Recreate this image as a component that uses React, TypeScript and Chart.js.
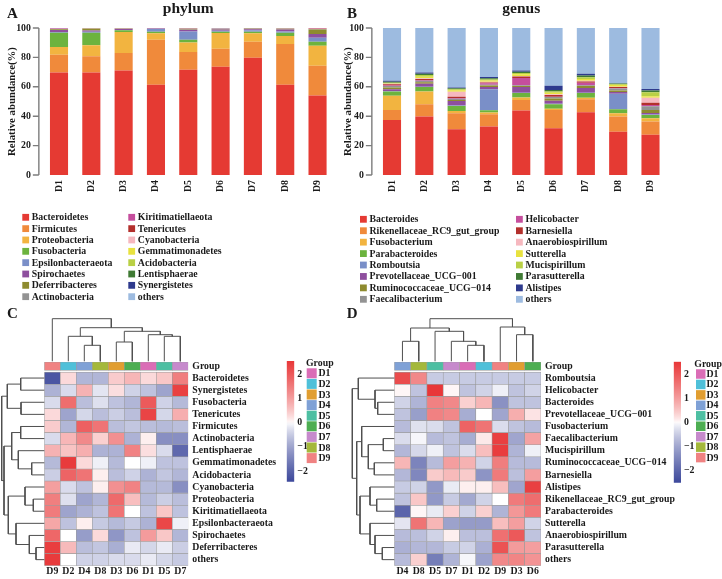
import React, { useEffect, useRef } from 'react';
import { Chart, registerables } from 'chart.js';

Chart.register(...registerables);

const SERIF = "'Liberation Serif', 'Times New Roman', serif";
const INK = '#1a1a1a';
Chart.defaults.font.family = SERIF;
Chart.defaults.color = INK;

// ---------------- data ----------------
const samples = ['D1', 'D2', 'D3', 'D4', 'D5', 'D6', 'D7', 'D8', 'D9'];
const abundanceTicks = [0, 20, 40, 60, 80, 100];
const zTicks = [-2, -1, 0, 1, 2];

const phylumNames = [
  'Bacteroidetes', 'Firmicutes', 'Proteobacteria', 'Fusobacteria', 'Epsilonbacteraeota', 'Spirochaetes',
  'Deferribacteres', 'Actinobacteria', 'Kiritimatiellaeota', 'Tenericutes', 'Cyanobacteria',
  'Gemmatimonadetes', 'Acidobacteria', 'Lentisphaerae', 'Synergistetes', 'others',
];
const phylumValues = [
  [69.8, 69.8, 71.1, 61.4, 71.6, 73.6, 79.8, 61.4, 54.1],
  [12.0, 10.9, 11.9, 30.6, 12.0, 12.3, 10.9, 27.7, 20.2],
  [5.2, 7.5, 14.3, 4.4, 6.6, 10.7, 5.7, 5.4, 13.7],
  [9.8, 8.6, 1.1, 1.1, 1.8, 0.9, 1.1, 2.3, 2.7],
  [0.4, 0.6, 0.3, 1.8, 5.7, 0.7, 0.9, 0.9, 2.6],
  [1.4, 0.9, 0.6, 0.3, 1.1, 0.8, 0.8, 1.2, 2.7],
  [0.5, 1.2, 0.2, 0.1, 0.4, 0.4, 0.3, 0.6, 3.0],
  [0.3, 0.2, 0.2, 0.1, 0.3, 0.2, 0.1, 0.2, 0.4],
  [0.2, 0.1, 0.15, 0.05, 0.2, 0.2, 0.1, 0.1, 0.3],
  [0.1, 0.05, 0.05, 0.05, 0.1, 0.1, 0.1, 0.1, 0.1],
  [0.05, 0.05, 0.02, 0.02, 0.05, 0.05, 0.02, 0.03, 0.1],
  [0.05, 0.02, 0.02, 0.02, 0.05, 0.02, 0.02, 0.02, 0.02],
  [0.05, 0.02, 0.02, 0.02, 0.03, 0.01, 0.02, 0.02, 0.02],
  [0.05, 0.02, 0.02, 0.02, 0.03, 0.01, 0.02, 0.01, 0.02],
  [0.05, 0.02, 0.0, 0.0, 0.02, 0.0, 0.01, 0.01, 0.01],
  [0.05, 0.02, 0.02, 0.02, 0.02, 0.01, 0.11, 0.01, 0.03],
];

const genusNames = [
  'Bacteroides', 'Rikenellaceae_RC9_gut_group', 'Fusobacterium', 'Parabacteroides', 'Romboutsia',
  'Prevotellaceae_UCG\u2212001', 'Ruminococcaceae_UCG\u2212014', 'Faecalibacterium', 'Helicobacter',
  'Barnesiella', 'Anaerobiospirillum', 'Sutterella', 'Mucispirillum', 'Parasutterella', 'Alistipes', 'others',
];
const genusValues = [
  [37.5, 39.8, 31.1, 33.0, 43.9, 31.8, 42.7, 29.5, 27.3],
  [6.8, 8.4, 10.9, 8.4, 7.2, 12.5, 8.9, 10.3, 9.1],
  [9.6, 8.6, 1.6, 1.1, 1.6, 0.7, 0.9, 2.2, 2.2],
  [2.9, 3.0, 3.4, 1.6, 3.0, 3.2, 3.2, 2.8, 2.3],
  [0.4, 0.3, 0.3, 14.3, 0.3, 0.3, 0.3, 10.4, 0.3],
  [1.2, 2.0, 3.0, 1.4, 3.8, 2.0, 3.1, 1.2, 1.0],
  [1.2, 1.0, 0.8, 1.0, 0.8, 1.5, 1.4, 1.0, 2.0],
  [1.0, 1.0, 0.8, 0.6, 0.4, 1.0, 0.6, 1.5, 2.5],
  [0.3, 0.5, 0.4, 1.0, 5.0, 0.3, 1.6, 0.3, 1.0],
  [0.8, 0.7, 0.9, 0.6, 1.0, 1.2, 0.9, 0.6, 1.4],
  [0.3, 0.6, 3.4, 0.5, 0.4, 0.5, 0.5, 0.3, 3.4],
  [0.3, 0.9, 1.0, 0.8, 1.2, 1.0, 1.2, 1.2, 1.1],
  [0.5, 1.2, 0.8, 0.6, 0.8, 0.8, 1.2, 0.5, 2.7],
  [0.6, 0.9, 0.6, 0.9, 0.9, 1.0, 1.2, 0.4, 1.1],
  [0.8, 0.9, 0.5, 0.8, 0.8, 2.9, 1.2, 0.3, 1.1],
  [35.8, 30.2, 40.5, 33.4, 28.9, 39.3, 31.1, 37.5, 41.5],
];

// heatmap C (phylum, z-scores)
const phylumHeatCols = ['D9', 'D2', 'D4', 'D8', 'D3', 'D6', 'D1', 'D5', 'D7'];
const phylumHeatRows = [
  'Bacteroidetes', 'Synergistetes', 'Fusobacteria', 'Tenericutes', 'Firmicutes', 'Actinobacteria',
  'Lentisphaerae', 'Gemmatimonadetes', 'Acidobacteria', 'Cyanobacteria', 'Proteobacteria',
  'Kiritimatiellaeota', 'Epsilonbacteraeota', 'Spirochaetes', 'Deferribacteres', 'others',
];
const phylumZ = [
  [-2.2, 0.3, -0.75, -0.75, 0.45, 0.7, 0.3, 0.5, 1.45],
  [-0.8, -0.3, 0.75, -0.2, 0.25, -0.4, -0.6, -1.0, 2.4],
  [-0.3, 1.7, -0.65, -0.25, -0.6, -0.75, 2.0, -0.4, -0.7],
  [0.3, -1.0, -0.35, -0.65, -0.45, -0.65, 2.35, -0.35, 0.8],
  [0.45, -0.75, 1.9, 1.6, -0.65, -0.55, -0.65, -0.7, -0.65],
  [-0.3, 0.7, 1.3, 0.4, 1.2, -0.8, 0.1, -1.3, -1.3],
  [0.75, 0.55, 0.8, -0.8, -0.8, 1.4, 0.25, -0.3, -1.9],
  [-0.7, 2.5, 0.3, -0.1, -0.7, 0.0, -0.1, -0.6, -0.6],
  [-0.45, 1.85, 1.6, 0.1, -0.65, -0.4, -0.8, -0.55, -0.75],
  [1.0, -0.3, -0.6, 0.1, 1.2, 1.4, -0.7, -0.7, -1.3],
  [1.45, -0.25, -1.0, -0.75, 1.75, 0.6, -0.7, -0.45, -0.65],
  [1.5, -1.0, -0.8, -0.6, 1.6, 0.0, -0.6, 0.5, -0.6],
  [0.9, -0.6, 0.1, -0.5, -0.7, -0.5, -0.8, 2.3, -0.1],
  [1.8, 0.0, -1.1, 0.3, -1.2, -0.6, 1.05, 0.5, -0.75],
  [2.45, 0.65, -0.65, -0.55, -0.85, -0.15, -0.35, -0.15, -0.45],
  [2.5, 0.0, -0.4, -0.4, -0.3, -0.3, -0.15, -0.35, -0.5],
];
const phylumZRange = [-2.44, 2.56];
// merges: [a, b, height]; negative = leaf (display position + 1), positive = earlier merge (1-based)
const phylumColTree = [
  [-3, -4, 16], [-2, 1, 25], [-5, -6, 19.3], [-8, -9, 25], [-7, 4, 26.6], [3, 5, 30], [2, 6, 33.6], [-1, 7, 42.6],
];
const phylumRowTree = [
  [-1, -2, 23.6], [-3, -4, 23.3], [1, 2, 37], [-5, -6, 23.6], [-8, -9, 12.6], [-7, 5, 26], [4, 6, 32.6],
  [-11, -12, 11], [-10, 8, 19.3], [-15, -16, 8.3], [-14, 10, 15], [-13, 11, 28.3], [9, 12, 36], [7, 13, 40.3], [3, 14, 42.6],
];

// heatmap D (genus, z-scores)
const genusHeatCols = ['D4', 'D8', 'D5', 'D7', 'D1', 'D2', 'D9', 'D3', 'D6'];
const genusHeatRows = [
  'Romboutsia', 'Helicobacter', 'Bacteroides', 'Prevotellaceae_UCG\u2212001', 'Fusobacterium',
  'Faecalibacterium', 'Mucispirillum', 'Ruminococcaceae_UCG\u2212014', 'Barnesiella', 'Alistipes',
  'Rikenellaceae_RC9_gut_group', 'Parabacteroides', 'Sutterella', 'Anaerobiospirillum', 'Parasutterella', 'others',
];
const genusZ = [
  [2.2, 1.3, -0.5, -0.5, -0.5, -0.5, -0.5, -0.5, -0.5],
  [0.05, -0.6, 2.6, 0.05, -0.6, -0.4, -0.1, -0.6, -0.4],
  [-0.4, -0.8, 1.4, 1.3, 0.4, 0.7, -1.3, -0.6, -0.6],
  [-0.6, -1.1, 1.4, 1.3, -0.9, 0.0, -1.0, 0.8, 0.2],
  [-0.7, -0.25, -0.3, -0.6, 1.85, 1.6, -0.3, -0.6, -0.7],
  [-0.3, -0.05, -0.7, -0.6, -0.9, 0.15, 2.4, -1.0, 0.95],
  [-0.75, -0.35, -0.1, -0.6, -0.3, 0.6, 2.45, -0.8, -0.1],
  [0.7, -1.5, -0.7, 1.0, 0.75, -0.4, 1.45, -0.7, -0.7],
  [-0.75, -1.45, 0.45, 0.65, 0.45, -1.25, 1.5, -0.65, 1.0],
  [-0.5, -0.4, -1.2, -0.15, 0.1, 0.1, 0.6, -1.0, 2.4],
  [-0.6, 0.5, -1.2, -0.5, -0.95, -0.4, 0.0, 1.5, 1.7],
  [-2.0, 0.05, -0.15, 0.4, -0.4, 0.4, -0.8, 1.1, 1.5],
  [-0.2, 1.6, 0.7, -1.05, -1.15, -1.15, 0.6, 1.0, -0.4],
  [-0.7, -0.65, -0.4, 0.1, -0.65, -0.65, 1.65, 2.0, -0.6],
  [-0.85, -0.75, -0.75, -0.5, -0.4, -0.85, 2.1, 1.05, 1.0],
  [-0.7, 0.4, -1.6, -0.8, -0.05, -1.05, 1.3, 1.35, 1.15],
];
const genusZRange = [-2.5, 2.54];
const genusColTree = [
  [-1, -2, 20], [-5, -6, 16], [-4, 2, 20], [-3, 3, 30], [1, 4, 33.3], [-8, -9, 26.6], [-7, 6, 34.3], [5, 7, 42.6],
];
const genusRowTree = [
  [-3, -4, 16.6], [-2, 1, 19.3], [-1, 2, 36], [-6, -7, 11], [-8, -9, 20], [4, 5, 26], [-5, 6, 32.6],
  [-11, -12, 17.6], [-10, 8, 24.3], [-15, -16, 12], [-14, 10, 19.3], [-13, 11, 24.3], [9, 12, 34.3], [7, 13, 37.6], [3, 14, 42],
];

// ---------------- styles ----------------
const taxaColors = [
  '#E53A33', '#F08A3B', '#F2B440', '#6CB33E', '#7A8FC8', '#8E4F9E', '#8E8B2F', '#939393',
  '#C54E9D', '#B3302C', '#F6B8BF', '#E8E23F', '#B9D045', '#3F7A34', '#2E3A8D', '#9DBBE0',
];
const groupColors: Record<string, string> = {
  D1: '#DA6DB6', D2: '#4FC0D9', D3: '#E19E31', D4: '#7FA1D6', D5: '#4DBFA2',
  D6: '#4DAE52', D7: '#C68ACC', D8: '#A4B83B', D9: '#F08282',
};
const zLow = [60, 72, 155];
const zHigh = [232, 55, 56];
const zGamma = 0.78;
const bold = (size: number) => ({ family: SERIF, size, weight: 'bold' as const });

function mix(c: number[], t: number) {
  const r = Math.round(255 + (c[0] - 255) * t);
  const g = Math.round(255 + (c[1] - 255) * t);
  const b = Math.round(255 + (c[2] - 255) * t);
  return `rgb(${r},${g},${b})`;
}
function zColor(z: number, range: number[]) {
  if (z < 0) return mix(zLow, Math.pow(Math.min(1, z / range[0]), zGamma));
  return mix(zHigh, Math.pow(Math.min(1, z / range[1]), zGamma));
}

function dendroSegments(tree: number[][]) {
  const pos: number[] = [];
  const hgt: number[] = [];
  const node = (id: number) => (id < 0 ? [-id - 1, 0] : [pos[id - 1], hgt[id - 1]]);
  const segs: number[][][] = [];
  tree.forEach(([a, b, h]) => {
    const [pa, ha] = node(a);
    const [pb, hb] = node(b);
    segs.push([[pa, ha], [pa, h], [pb, h], [pb, hb]]);
    pos.push((pa + pb) / 2);
    hgt.push(h);
  });
  return segs;
}

// ---------------- plugins ----------------
const leftAxisPlugin = {
  id: 'leftAxis',
  afterDraw(chart: any, _a: any, o: any) {
    const { ctx, chartArea } = chart;
    const ys = chart.scales.y;
    const x0 = chartArea.left - o.gap;
    ctx.save();
    ctx.strokeStyle = o.color;
    ctx.lineWidth = o.width;
    ctx.beginPath();
    ctx.moveTo(x0, ys.getPixelForValue(ys.min));
    ctx.lineTo(x0, ys.getPixelForValue(ys.max));
    ys.ticks.forEach((t: any) => {
      const y = ys.getPixelForValue(t.value);
      ctx.moveTo(x0 - o.len, y);
      ctx.lineTo(x0, y);
    });
    ctx.stroke();
    ctx.restore();
  },
};

const taxaLegendPlugin = {
  id: 'taxaLegend',
  afterDraw(chart: any, _a: any, o: any) {
    const { ctx } = chart;
    ctx.save();
    ctx.font = `bold ${o.size}px ${SERIF}`;
    ctx.textBaseline = 'middle';
    ctx.textAlign = 'left';
    chart.data.datasets.forEach((ds: any, i: number) => {
      const col = Math.floor(i / o.perCol);
      const row = i % o.perCol;
      const x = o.cols[col];
      const y = o.y0 + row * o.step;
      ctx.fillStyle = ds.backgroundColor;
      ctx.fillRect(x, y - o.box / 2, o.box, o.box);
      ctx.fillStyle = INK;
      ctx.fillText(ds.label, x + o.textDx, y + 0.5);
    });
    ctx.restore();
  },
};

const textPlugin = {
  id: 'panelText',
  afterDraw(chart: any, _a: any, o: any) {
    const { ctx } = chart;
    ctx.save();
    (o.items || []).forEach((t: any) => {
      ctx.font = t.font;
      ctx.fillStyle = INK;
      ctx.textAlign = t.align || 'left';
      ctx.textBaseline = 'middle';
      ctx.fillText(t.text, t.x, t.y);
    });
    ctx.restore();
  },
};

const groupLegendPlugin = {
  id: 'groupLegend',
  afterDraw(chart: any, _a: any, o: any) {
    const { ctx } = chart;
    ctx.save();
    ctx.font = `bold 9.8px ${SERIF}`;
    ctx.textBaseline = 'middle';
    ctx.textAlign = 'left';
    ctx.fillStyle = INK;
    ctx.fillText('Group', o.titleX, o.titleY);
    samples.forEach((s, i) => {
      const y = o.y0 + i * o.step;
      ctx.fillStyle = groupColors[s];
      ctx.fillRect(o.boxX, y - o.box / 2, o.box, o.box);
      ctx.fillStyle = INK;
      ctx.fillText(s, o.textX, y + 0.5);
    });
    ctx.restore();
  },
};

// ---------------- configs ----------------
function barConfig(names: string[], values: number[][], title: string, p: any) {
  return {
    type: 'bar',
    data: {
      labels: samples,
      datasets: names.map((n, i) => ({
        label: n,
        data: values[i],
        backgroundColor: taxaColors[i],
        borderWidth: 0,
        barPercentage: 0.56,
        categoryPercentage: 1,
      })),
    },
    options: {
      animation: false,
      responsive: false,
      events: [],
      layout: { padding: { left: 0, right: p.padRight, top: 0, bottom: p.padBottom } },
      plugins: {
        legend: { display: false },
        tooltip: { enabled: false },
        title: {
          display: true, text: title, fullSize: false, font: bold(15.5), color: INK,
          padding: { top: 0, bottom: 9.4 },
        },
        leftAxis: { gap: 4, len: 6, color: '#7d7d7d', width: 1.4 },
        taxaLegend: p.legend,
        panelText: { items: [p.letter] },
      },
      scales: {
        x: {
          stacked: true,
          offset: true,
          grid: { display: false, drawTicks: false },
          border: { display: false },
          ticks: { font: bold(9.8), color: INK, minRotation: 90, maxRotation: 90, padding: 5, autoSkip: false },
          afterFit: (s: any) => { s.height = 20; },
        },
        y: {
          stacked: true,
          min: 0,
          max: 100,
          grid: { display: false, drawTicks: false },
          border: { display: false },
          afterBuildTicks: (s: any) => { s.ticks = abundanceTicks.map((v) => ({ value: v })); },
          ticks: { font: bold(9.8), color: INK, padding: 12 },
          title: {
            display: true, text: 'Relative abundance(%)', font: bold(10.8), color: INK,
            padding: { top: 5.5, bottom: 0 },
          },
          afterFit: (s: any) => { s.width = p.yWidth; },
        },
      },
    },
    plugins: [leftAxisPlugin, taxaLegendPlugin, textPlugin],
  };
}

function heatConfig(cols: string[], rows: string[], z: number[][], range: number[], p: any) {
  const datasets: any[] = [{
    data: cols.map(() => [-0.84, -0.15]),
    backgroundColor: cols.map((c) => groupColors[c]),
  }];
  rows.forEach((_, r) => {
    datasets.push({
      data: cols.map(() => [r, r + 1]),
      backgroundColor: z[r].map((v) => zColor(v, range)),
    });
  });
  return {
    type: 'bar',
    data: { labels: cols, datasets },
    options: {
      animation: false,
      responsive: false,
      events: [],
      layout: { padding: { left: 4.3, top: 9.7, right: 0, bottom: 0 } },
      datasets: {
        bar: {
          grouped: false, barPercentage: 1, categoryPercentage: 1,
          borderColor: '#9c9c9c', borderWidth: 0.6, borderSkipped: false,
        },
      },
      plugins: { legend: { display: false }, tooltip: { enabled: false } },
      scales: {
        x: {
          grid: { display: false, drawTicks: false },
          border: { display: false },
          ticks: { font: bold(9.8), color: INK, padding: 0, maxRotation: 0, autoSkip: false },
          afterFit: (s: any) => { s.height = 13.3; },
        },
        y: {
          type: 'linear',
          position: 'right',
          reverse: true,
          min: -0.85,
          max: rows.length,
          grid: { display: false, drawTicks: false },
          border: { display: false },
          afterBuildTicks: (s: any) => {
            s.ticks = [{ value: -0.495 }, ...rows.map((_, i) => ({ value: i + 0.5 }))];
          },
          ticks: {
            autoSkip: false, padding: 4, font: bold(9.8), color: INK,
            callback: (_v: any, i: number) => (i === 0 ? 'Group' : rows[i - 1]),
          },
          afterFit: (s: any) => { s.width = p.yWidth; },
        },
      },
    },
  };
}

function colorBarConfig(range: number[], p: any) {
  return {
    type: 'bar',
    data: {
      labels: [''],
      datasets: [{
        data: [[range[0], range[1]]],
        borderWidth: 0,
        barPercentage: 1,
        categoryPercentage: 1,
        backgroundColor: (c: any) => {
          const chart = c.chart;
          if (!chart.chartArea) return '#ffffff';
          const ys = chart.scales.y;
          const g = chart.ctx.createLinearGradient(0, ys.getPixelForValue(range[1]), 0, ys.getPixelForValue(range[0]));
          const n = 40;
          for (let k = 0; k <= n; k++) {
            const v = range[1] + (range[0] - range[1]) * (k / n);
            g.addColorStop(k / n, zColor(v, range));
          }
          return g;
        },
      }],
    },
    options: {
      animation: false,
      responsive: false,
      events: [],
      layout: { padding: { left: p.left, top: p.top, right: 0, bottom: p.bottom } },
      plugins: { legend: { display: false }, tooltip: { enabled: false }, groupLegend: p.group },
      scales: {
        x: { display: false },
        y: {
          position: 'right',
          min: range[0],
          max: range[1],
          grid: { display: false, drawTicks: false },
          border: { display: false },
          afterBuildTicks: (s: any) => { s.ticks = zTicks.map((v) => ({ value: v })); },
          ticks: {
            padding: 3, font: bold(9.8), color: INK,
            callback: (v: number) => (v < 0 ? '\u2212' + Math.abs(v) : String(v)),
          },
          afterFit: (s: any) => { s.width = p.yWidth; },
        },
      },
    },
    plugins: [groupLegendPlugin],
  };
}

function dendroConfig(tree: number[][], n: number, orient: 'top' | 'left', p: any) {
  const segs = dendroSegments(tree);
  const maxH = Math.max(...tree.map((m) => m[2]));
  const datasets = segs.map((s) => ({
    data: s.map(([pos, h]) => (orient === 'top' ? { x: pos, y: h } : { x: h, y: pos })),
    showLine: true,
    borderColor: '#4f4f4f',
    borderWidth: 1,
    pointRadius: 0,
    clip: 3,
  }));
  const posScale = { type: 'linear', display: false, min: -0.5, max: n - 0.5, reverse: orient === 'left' };
  const hScale = { type: 'linear', display: false, min: 0, max: maxH, reverse: orient === 'left' };
  return {
    type: 'scatter',
    data: { datasets },
    options: {
      animation: false,
      responsive: false,
      events: [],
      layout: { padding: p.padding },
      plugins: { legend: { display: false }, tooltip: { enabled: false }, panelText: { items: p.letter ? [p.letter] : [] } },
      scales: orient === 'top' ? { x: posScale, y: hScale } : { x: hScale, y: posScale },
    },
    plugins: [textPlugin],
  };
}

// ---------------- components ----------------
function ChartCanvas({ x, y, w, h, make }: { x: number; y: number; w: number; h: number; make: () => any }) {
  const ref = useRef<HTMLCanvasElement | null>(null);
  useEffect(() => {
    if (!ref.current) return;
    const chart = new Chart(ref.current, make());
    return () => chart.destroy();
  }, []);
  return (
    <canvas
      ref={ref}
      width={w}
      height={h}
      style={{ position: 'absolute', left: x, top: y, width: w, height: h }}
    />
  );
}

const letterFont = `bold 15px ${SERIF}`;

export default function App() {
  return (
    <div style={{ position: 'fixed', left: 0, top: 0, width: 722, height: 579, background: '#ffffff', overflow: 'hidden' }}>
      <ChartCanvas
        x={0} y={0} w={361} h={305}
        make={() => barConfig(phylumNames, phylumValues, 'phylum', {
          padRight: 27.3, padBottom: 110, yWidth: 42.85,
          legend: { cols: [22.3, 128.3], perCol: 8, y0: 217.3, step: 11.34, box: 6.8, textDx: 9.5, size: 9.8 },
          letter: { text: 'A', x: 7, y: 14, font: letterFont },
        })}
      />
      <ChartCanvas
        x={336} y={0} w={386} h={305}
        make={() => barConfig(genusNames, genusValues, 'genus', {
          padRight: 55.35, padBottom: 110, yWidth: 39.85,
          legend: { cols: [24, 180], perCol: 8, y0: 219.3, step: 11.43, box: 6.8, textDx: 9.5, size: 9.8 },
          letter: { text: 'B', x: 11, y: 14, font: letterFont },
        })}
      />

      {/* Panel C */}
      <ChartCanvas x={40} y={352} w={250} h={227}
        make={() => heatConfig(phylumHeatCols, phylumHeatRows, phylumZ, phylumZRange, { yWidth: 101.7 })} />
      <ChartCanvas x={40} y={312} w={155} h={52}
        make={() => dendroConfig(phylumColTree, 9, 'top', { padding: { left: 4.3, right: 6.7, top: 6.7, bottom: 2.7 } })} />
      <ChartCanvas x={0} y={300} w={46} h={270}
        make={() => dendroConfig(phylumRowTree, 16, 'left', {
          padding: { left: 1.7, right: 1.7, top: 72, bottom: 4.3 },
          letter: { text: 'C', x: 7, y: 14, font: letterFont },
        })} />
      <ChartCanvas x={280} y={352} w={82} h={140}
        make={() => colorBarConfig(phylumZRange, {
          left: 6.7, top: 8, bottom: 10.3, yWidth: 67.7,
          group: { titleX: 26, titleY: 11.5, boxX: 26.7, box: 10, textX: 38.5, y0: 21.3, step: 10.6 },
        })} />

      {/* Panel D */}
      <ChartCanvas x={390} y={352} w={290} h={227}
        make={() => heatConfig(genusHeatCols, genusHeatRows, genusZ, genusZRange, { yWidth: 139 })} />
      <ChartCanvas x={390} y={312} w={155} h={52}
        make={() => dendroConfig(genusColTree, 9, 'top', { padding: { left: 4.3, right: 4, top: 6.7, bottom: 2.7 } })} />
      <ChartCanvas x={345} y={300} w={52} h={270}
        make={() => dendroConfig(genusRowTree, 16, 'left', {
          padding: { left: 7.3, right: 2.7, top: 72, bottom: 4.3 },
          letter: { text: 'D', x: 1.7, y: 14, font: letterFont },
        })} />
      <ChartCanvas x={667} y={352} w={55} h={140}
        make={() => colorBarConfig(genusZRange, {
          left: 6.7, top: 9.7, bottom: 9.3, yWidth: 41,
          group: { titleX: 27.3, titleY: 12, boxX: 29, box: 9.5, textX: 39.5, y0: 22, step: 10.45 },
        })} />
    </div>
  );
}
